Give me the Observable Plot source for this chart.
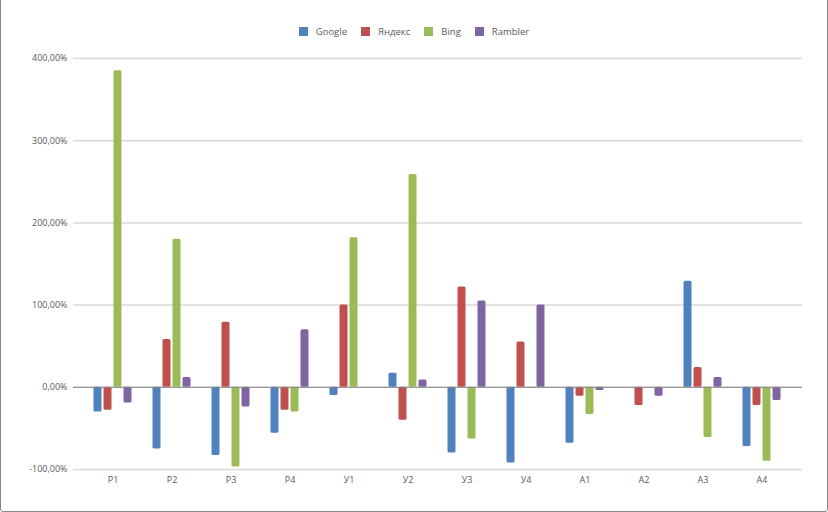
<!DOCTYPE html>
<html>
<head>
<meta charset="utf-8">
<script src="https://cdn.jsdelivr.net/npm/d3@7"></script>
<script src="https://cdn.jsdelivr.net/npm/@observablehq/plot@0.6"></script>
<style>
  html, body { margin: 0; padding: 0; background: #fff; }
  #wrap { position: relative; width: 828px; height: 512px; overflow: hidden; font-family: "Open Sans", sans-serif; }
  #frame { position: absolute; left: 0; top: -10px; width: 826px; height: 520px; border: 1px solid #898989; border-radius: 3px; pointer-events: none; }
  #legend { position: absolute; left: 0; top: 24px; width: 828px; height: 14px; display: flex; justify-content: center; align-items: center; font-size: 9.5px; color: #595959; }
  .item { display: flex; align-items: center; margin: 0 7px; }
  .sw { width: 9px; height: 9px; margin-right: 8px; }
  #chart { position: absolute; left: 0; top: 0; }
</style>
</head>
<body>
<div id="wrap">
  <div id="chart"></div>
  <div id="legend"></div>
  <div id="frame"></div>
</div>
<script>
const categories = ["Р1", "Р2", "Р3", "Р4", "У1", "У2", "У3", "У4", "А1", "А2", "А3", "А4"];
const seriesNames = ["Google", "Яндекс", "Bing", "Rambler"];
const seriesColors = ["#4F81BD", "#C0504D", "#9BBB59", "#8064A2"];
const google  = [-0.30, -0.75, -0.83, -0.56, -0.10,  0.17, -0.80, -0.92, -0.68,  0.00,  1.29, -0.72];
const yandex  = [-0.28,  0.58,  0.79, -0.28,  1.00, -0.40,  1.22,  0.55, -0.11, -0.22,  0.24, -0.22];
const bing    = [ 3.85,  1.80, -0.97, -0.30,  1.82,  2.59, -0.63, -0.01, -0.33,  0.00, -0.61, -0.90];
const rambler = [-0.19,  0.12, -0.24,  0.70,  0.00,  0.09,  1.05,  1.00, -0.04, -0.11,  0.12, -0.16];
const yTicks = [-1, 0, 1, 2, 3, 4];

const seriesValues = [google, yandex, bing, rambler];
const tables = seriesValues.map((vals, s) =>
  categories.map((c, i) => ({category: c, series: seriesNames[s], value: vals[i]}))
);
const offsets = [-15, -5, 5, 15];

const fmt = d => (d * 100).toFixed(2).replace(".", ",") + "%";

const chart = Plot.plot({
  width: 828,
  height: 512,
  marginLeft: 73,
  marginRight: 26,
  marginTop: 58,
  marginBottom: 43,
  style: {fontFamily: "'Open Sans', sans-serif", fontSize: "9px", color: "#595959", background: "transparent"},
  x: {domain: categories, padding: 0, insetLeft: 10, insetRight: 11, tickSize: 0, tickPadding: 7, label: null},
  y: {domain: [-1, 4], ticks: yTicks, tickFormat: fmt, tickSize: 0, tickPadding: 6, label: null},
  marks: [
    Plot.ruleY(yTicks, {stroke: "#d9d9d9", strokeWidth: 1.5}),
    ...tables.map((t, s) => Plot.barY(t, {
      x: "category", y: "value", fill: seriesColors[s],
      dx: offsets[s], insetLeft: 25.5, insetRight: 25.5, rx: 1.5
    })),
    Plot.ruleY([0], {stroke: "#868686", strokeWidth: 1})
  ]
});
document.getElementById("chart").appendChild(chart);

const legend = document.getElementById("legend");
seriesNames.forEach((n, i) => {
  const it = document.createElement("div");
  it.className = "item";
  const sw = document.createElement("div");
  sw.className = "sw";
  sw.style.background = seriesColors[i];
  const tx = document.createElement("span");
  tx.textContent = n;
  it.appendChild(sw); it.appendChild(tx);
  legend.appendChild(it);
});
</script>
</body>
</html>
